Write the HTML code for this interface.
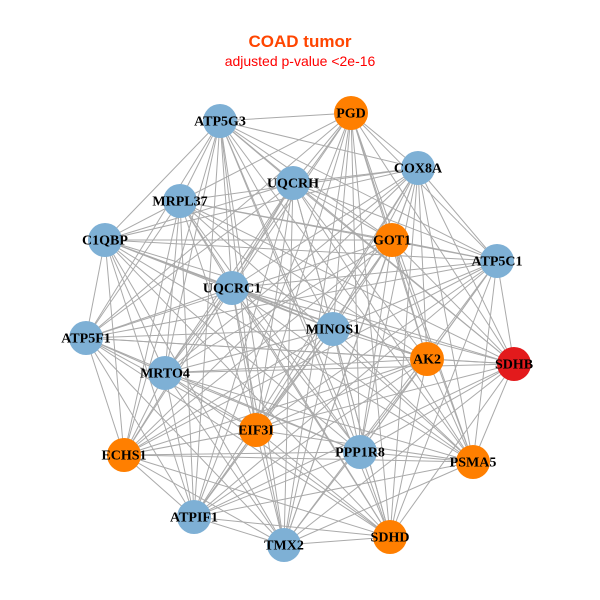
<!DOCTYPE html>
<html><head><style>
body{margin:0;background:#fff;width:600px;height:600px;overflow:hidden}
svg{display:block}
.l{font-family:"Liberation Serif",serif;font-weight:bold;font-size:14px;fill:#000;text-anchor:middle;dominant-baseline:central}
</style></head><body>
<svg id="s" width="600" height="600" xmlns="http://www.w3.org/2000/svg">
<text x="300" y="47" text-anchor="middle" font-family="Liberation Sans,sans-serif" font-weight="bold" font-size="17" fill="#ff4500">COAD tumor</text>
<text x="300" y="66" text-anchor="middle" font-family="Liberation Sans,sans-serif" font-size="14" fill="#ff0000">adjusted p-value &lt;2e-16</text>
<g id="e" stroke="#aaaaaa" stroke-width="1"></g>
<g id="n"></g>
</svg>
<script>
var N=[["ATP5G3",220,121,"b"],["PGD",351,113,"o"],["COX8A",418,168,"b"],["UQCRH",293,183,"b"],["MRPL37",180,201,"b"],["C1QBP",105,240,"b"],["GOT1",392,240,"o"],["ATP5C1",497,261,"b"],["UQCRC1",232,288,"b"],["MINOS1",333,329,"b"],["ATP5F1",86,338,"b"],["AK2",427,359,"o"],["SDHB",514,364,"r"],["MRTO4",165,373,"b"],["EIF3I",256,430,"o"],["PPP1R8",360,452,"b"],["ECHS1",124,455,"o"],["PSMA5",473,462,"o"],["ATPIF1",194,517,"b"],["SDHD",390,537,"o"],["TMX2",284,545,"b"]];
var C={b:"#7eb0d5",o:"#ff7f00",r:"#e31a1c"};
var ns="http://www.w3.org/2000/svg",e=document.getElementById("e"),g=document.getElementById("n");
for(var i=0;i<N.length;i++)for(var j=i+1;j<N.length;j++){if((i*7+j*3)%11==0)continue;var l=document.createElementNS(ns,"line");l.setAttribute("x1",N[i][1]);l.setAttribute("y1",N[i][2]);l.setAttribute("x2",N[j][1]);l.setAttribute("y2",N[j][2]);e.appendChild(l);}
N.forEach(function(a){var c=document.createElementNS(ns,"circle");c.setAttribute("cx",a[1]);c.setAttribute("cy",a[2]);c.setAttribute("r",17);c.setAttribute("fill",C[a[3]]);g.appendChild(c);});
N.forEach(function(a){var t=document.createElementNS(ns,"text");t.setAttribute("x",a[1]);t.setAttribute("y",a[2]+1);t.setAttribute("class","l");t.textContent=a[0];g.appendChild(t);});
</script>
</body></html>
